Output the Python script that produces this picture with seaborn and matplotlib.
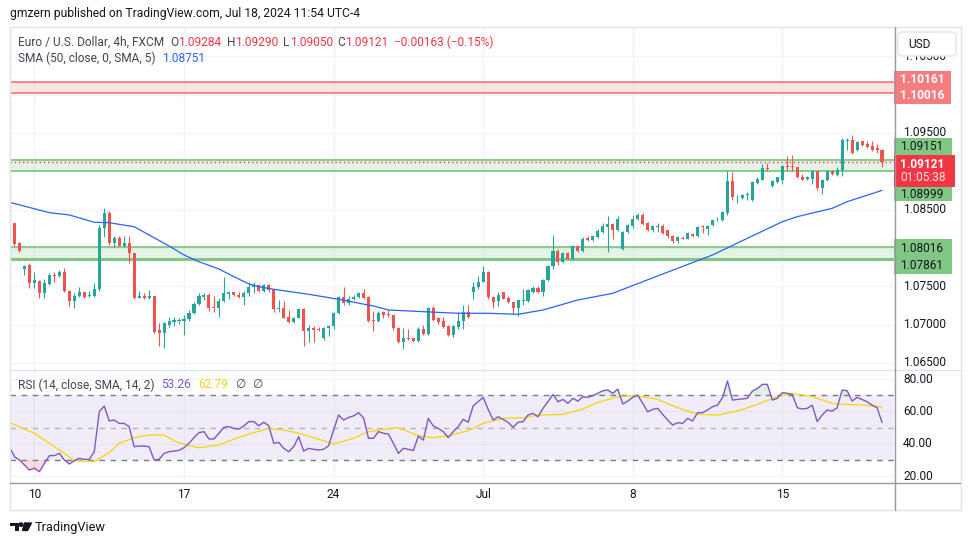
import numpy as np
import pandas as pd
import matplotlib
matplotlib.use("Agg")
import matplotlib.pyplot as plt
import seaborn as sns
from matplotlib.patches import Rectangle, FancyBboxPatch, Circle, Polygon
from matplotlib.transforms import Affine2D

# EURUSD 4h candles (bar 0 = Jun 7, last bar = Jul 18 09:00)
opens = [1.0889, 1.0832, 1.0806, 1.0773, 1.0778, 1.0754, 1.0757, 1.0741, 1.0753, 1.0765,
         1.0763, 1.0768, 1.0744, 1.0731, 1.0737, 1.0742, 1.0737, 1.0737, 1.0746, 1.0826,
         1.0845, 1.0807, 1.0813, 1.0803, 1.0806, 1.0793, 1.0735, 1.0737, 1.0735, 1.0737,
         1.0693, 1.0689, 1.0700, 1.0703, 1.0705, 1.0705, 1.0707, 1.0715, 1.0727, 1.0736,
         1.0738, 1.0723, 1.0721, 1.0731, 1.0740, 1.0742, 1.0739, 1.0736, 1.0741, 1.0749,
         1.0752, 1.0744, 1.0751, 1.0746, 1.0720, 1.0722, 1.0710, 1.0703, 1.0709, 1.0720,
         1.0691, 1.0696, 1.0694, 1.0683, 1.0695, 1.0698, 1.0715, 1.0736, 1.0728, 1.0733,
         1.0736, 1.0741, 1.0736, 1.0706, 1.0705, 1.0716, 1.0714, 1.0712, 1.0696, 1.0677,
         1.0683, 1.0682, 1.0678, 1.0694, 1.0688, 1.0721, 1.0708, 1.0704, 1.0698, 1.0686,
         1.0697, 1.0705, 1.0717, 1.0742, 1.0749, 1.0756, 1.0769, 1.0736, 1.0731, 1.0742,
         1.0735, 1.0729, 1.0721, 1.0731, 1.0731, 1.0743, 1.0748, 1.0742, 1.0758, 1.0776,
         1.0796, 1.0782, 1.0793, 1.0785, 1.0802, 1.0796, 1.0813, 1.0810, 1.0814, 1.0821,
         1.0827, 1.0831, 1.0823, 1.0799, 1.0821, 1.0829, 1.0838, 1.0843, 1.0833, 1.0823,
         1.0827, 1.0829, 1.0823, 1.0816, 1.0809, 1.0813, 1.0812, 1.0818, 1.0815, 1.0828,
         1.0825, 1.0830, 1.0836, 1.0836, 1.0846, 1.0887, 1.0866, 1.0865, 1.0869, 1.0862,
         1.0885, 1.0889, 1.0904, 1.0881, 1.0886, 1.0888, 1.0907, 1.0907, 1.0905, 1.0893,
         1.0890, 1.0890, 1.0900, 1.0878, 1.0888, 1.0900, 1.0895, 1.0902, 1.0940, 1.0941,
         1.0928, 1.0939, 1.0936, 1.0933, 1.0931, 1.09284]
highs = [1.0899, 1.0833, 1.0808, 1.0778, 1.0780, 1.0768, 1.0758, 1.0760, 1.0767, 1.0769,
         1.0771, 1.0774, 1.0745, 1.0741, 1.0749, 1.0743, 1.0744, 1.0754, 1.0830, 1.0852,
         1.0848, 1.0816, 1.0816, 1.0816, 1.0816, 1.0794, 1.0744, 1.0741, 1.0745, 1.0737,
         1.0702, 1.0703, 1.0710, 1.0710, 1.0708, 1.0712, 1.0719, 1.0729, 1.0741, 1.0741,
         1.0741, 1.0737, 1.0735, 1.0762, 1.0744, 1.0743, 1.0742, 1.0744, 1.0756, 1.0756,
         1.0753, 1.0753, 1.0753, 1.0747, 1.0732, 1.0731, 1.0719, 1.0710, 1.0721, 1.0722,
         1.0700, 1.0698, 1.0697, 1.0697, 1.0700, 1.0717, 1.0737, 1.0749, 1.0737, 1.0738,
         1.0743, 1.0746, 1.0737, 1.0718, 1.0718, 1.0718, 1.0719, 1.0713, 1.0697, 1.0696,
         1.0694, 1.0683, 1.0697, 1.0700, 1.0723, 1.0724, 1.0710, 1.0710, 1.0700, 1.0699,
         1.0716, 1.0726, 1.0726, 1.0756, 1.0763, 1.0777, 1.0770, 1.0737, 1.0743, 1.0743,
         1.0737, 1.0730, 1.0734, 1.0747, 1.0746, 1.0750, 1.0750, 1.0760, 1.0778, 1.0817,
         1.0798, 1.0795, 1.0795, 1.0804, 1.0804, 1.0814, 1.0815, 1.0817, 1.0825, 1.0832,
         1.0842, 1.0833, 1.0842, 1.0822, 1.0831, 1.0843, 1.0845, 1.0845, 1.0834, 1.0830,
         1.0832, 1.0831, 1.0824, 1.0817, 1.0816, 1.0815, 1.0821, 1.0819, 1.0829, 1.0830,
         1.0830, 1.0837, 1.0840, 1.0848, 1.0900, 1.0899, 1.0869, 1.0870, 1.0873, 1.0887,
         1.0893, 1.0910, 1.0911, 1.0888, 1.0893, 1.0908, 1.0920, 1.0921, 1.0906, 1.0897,
         1.0894, 1.0902, 1.0901, 1.0890, 1.0902, 1.0902, 1.0906, 1.0943, 1.0943, 1.0947,
         1.0939, 1.0940, 1.0939, 1.0939, 1.0936, 1.09290]
lows = [1.0823, 1.0802, 1.0795, 1.0765, 1.0748, 1.0748, 1.0735, 1.0735, 1.0752, 1.0755,
        1.0762, 1.0742, 1.0724, 1.0722, 1.0736, 1.0735, 1.0736, 1.0736, 1.0744, 1.0814,
        1.0804, 1.0801, 1.0802, 1.0801, 1.0780, 1.0733, 1.0735, 1.0733, 1.0734, 1.0689,
        1.0672, 1.0669, 1.0697, 1.0698, 1.0701, 1.0686, 1.0704, 1.0714, 1.0725, 1.0732,
        1.0718, 1.0716, 1.0710, 1.0730, 1.0734, 1.0737, 1.0735, 1.0726, 1.0737, 1.0741,
        1.0743, 1.0742, 1.0743, 1.0716, 1.0716, 1.0708, 1.0702, 1.0702, 1.0708, 1.0672,
        1.0677, 1.0677, 1.0691, 1.0680, 1.0685, 1.0694, 1.0714, 1.0726, 1.0726, 1.0732,
        1.0735, 1.0733, 1.0703, 1.0692, 1.0703, 1.0709, 1.0710, 1.0693, 1.0676, 1.0668,
        1.0680, 1.0677, 1.0677, 1.0687, 1.0687, 1.0705, 1.0701, 1.0695, 1.0685, 1.0684,
        1.0694, 1.0694, 1.0709, 1.0733, 1.0747, 1.0755, 1.0733, 1.0722, 1.0724, 1.0733,
        1.0728, 1.0714, 1.0711, 1.0726, 1.0730, 1.0741, 1.0741, 1.0737, 1.0757, 1.0772,
        1.0778, 1.0780, 1.0785, 1.0784, 1.0795, 1.0795, 1.0809, 1.0809, 1.0813, 1.0820,
        1.0795, 1.0811, 1.0822, 1.0797, 1.0819, 1.0826, 1.0837, 1.0830, 1.0822, 1.0821,
        1.0821, 1.0818, 1.0813, 1.0806, 1.0807, 1.0811, 1.0811, 1.0814, 1.0814, 1.0819,
        1.0817, 1.0829, 1.0835, 1.0835, 1.0843, 1.0863, 1.0859, 1.0864, 1.0863, 1.0861,
        1.0884, 1.0888, 1.0901, 1.0880, 1.0885, 1.0884, 1.0902, 1.0900, 1.0891, 1.0888,
        1.0889, 1.0884, 1.0875, 1.0871, 1.0887, 1.0895, 1.0894, 1.0894, 1.0928, 1.0922,
        1.0927, 1.0933, 1.0931, 1.0927, 1.0924, 1.09050]
closes = [1.0832, 1.0805, 1.0796, 1.0777, 1.0754, 1.0758, 1.0741, 1.0754, 1.0765, 1.0763,
          1.0769, 1.0744, 1.0731, 1.0737, 1.0742, 1.0736, 1.0738, 1.0746, 1.0826, 1.0846,
          1.0807, 1.0813, 1.0803, 1.0806, 1.0793, 1.0735, 1.0737, 1.0735, 1.0737, 1.0690,
          1.0689, 1.0702, 1.0704, 1.0706, 1.0706, 1.0707, 1.0715, 1.0727, 1.0737, 1.0739,
          1.0721, 1.0721, 1.0731, 1.0741, 1.0742, 1.0738, 1.0736, 1.0741, 1.0749, 1.0751,
          1.0744, 1.0751, 1.0745, 1.0720, 1.0722, 1.0709, 1.0703, 1.0709, 1.0720, 1.0691,
          1.0696, 1.0693, 1.0693, 1.0695, 1.0698, 1.0715, 1.0736, 1.0728, 1.0733, 1.0736,
          1.0741, 1.0735, 1.0705, 1.0705, 1.0715, 1.0712, 1.0712, 1.0696, 1.0677, 1.0683,
          1.0681, 1.0678, 1.0694, 1.0688, 1.0722, 1.0706, 1.0703, 1.0697, 1.0686, 1.0698,
          1.0705, 1.0717, 1.0710, 1.0749, 1.0756, 1.0769, 1.0736, 1.0730, 1.0739, 1.0734,
          1.0729, 1.0721, 1.0732, 1.0732, 1.0745, 1.0748, 1.0742, 1.0758, 1.0776, 1.0796,
          1.0782, 1.0793, 1.0786, 1.0802, 1.0796, 1.0812, 1.0810, 1.0815, 1.0822, 1.0828,
          1.0831, 1.0823, 1.0838, 1.0821, 1.0830, 1.0838, 1.0843, 1.0831, 1.0823, 1.0828,
          1.0829, 1.0820, 1.0815, 1.0809, 1.0814, 1.0812, 1.0819, 1.0815, 1.0827, 1.0827,
          1.0829, 1.0836, 1.0837, 1.0847, 1.0887, 1.0866, 1.0867, 1.0869, 1.0870, 1.0886,
          1.0890, 1.0904, 1.0903, 1.0887, 1.0892, 1.0907, 1.0905, 1.0905, 1.0892, 1.0889,
          1.0892, 1.0900, 1.0878, 1.0889, 1.0900, 1.0896, 1.0902, 1.0941, 1.0941, 1.0924,
          1.0938, 1.0934, 1.0932, 1.0928, 1.09284, 1.09121]

# SMA(50) read at a few bars
sma_bars = [0, 8, 12, 17, 20, 25, 28, 32, 35, 38, 42, 45, 48, 50, 53, 60, 66, 73, 76, 83,
            90, 96, 102, 107, 114, 121, 127, 134, 141, 148, 155, 158, 165, 168, 175]
sma_vals = [1.08596, 1.08460, 1.08430, 1.08335, 1.08329, 1.08277, 1.08169, 1.08025, 1.07908, 1.07820,
            1.07725, 1.07625, 1.07530, 1.07494, 1.07460, 1.07395, 1.07330, 1.07242, 1.07190, 1.07168,
            1.07147, 1.07147, 1.07134, 1.07190, 1.07321, 1.07408, 1.07559, 1.07734, 1.07908, 1.08126,
            1.08342, 1.08408, 1.08517, 1.08603, 1.08751]

# RSI(14), one value per bar
rsi = [38.2, 32.0, 30.0, 26.9, 23.8, 24.9, 22.8, 27.9, 32.7, 32.7,
       34.1, 30.0, 27.5, 29.6, 31.0, 30.4, 30.4, 35.1, 59.8, 63.3,
       54.1, 54.7, 52.6, 52.6, 50.6, 38.2, 38.6, 38.6, 38.2, 30.0,
       30.4, 34.1, 35.1, 35.5, 36.0, 37.6, 40.3, 43.8, 46.9, 47.5,
       43.0, 43.0, 46.5, 50.2, 50.6, 49.5, 49.1, 51.0, 53.7, 53.7,
       51.2, 53.3, 51.2, 40.3, 40.9, 37.2, 35.1, 38.2, 44.4, 35.5,
       37.2, 36.6, 36.2, 36.6, 38.8, 48.5, 57.8, 54.7, 56.3, 57.2,
       59.2, 56.1, 43.4, 43.4, 47.5, 46.5, 46.0, 40.3, 34.1, 37.2,
       36.6, 35.8, 44.8, 42.3, 55.7, 51.0, 49.5, 47.5, 43.8, 47.5,
       50.6, 55.1, 53.3, 63.5, 66.0, 68.7, 61.3, 54.7, 56.7, 55.1,
       53.3, 50.2, 53.3, 53.7, 57.8, 58.8, 56.7, 61.9, 66.0, 70.5,
       66.0, 67.4, 65.0, 68.1, 66.4, 69.1, 68.7, 69.7, 71.2, 72.8,
       73.2, 71.2, 73.8, 64.6, 66.4, 68.7, 70.1, 65.0, 59.8, 61.3,
       61.9, 58.2, 54.7, 51.6, 53.0, 52.6, 55.7, 54.1, 59.2, 59.2,
       60.9, 62.9, 63.9, 68.5, 78.8, 67.0, 67.4, 67.7, 68.1, 72.6,
       74.2, 76.7, 76.7, 67.0, 68.1, 71.6, 71.2, 70.5, 62.3, 61.5,
       61.9, 63.9, 53.7, 57.8, 60.9, 60.2, 62.3, 73.2, 72.8, 66.4,
       68.7, 67.4, 66.0, 63.9, 62.3, 53.26]

# RSI-based SMA(14) read at a few bars
rsi_ma_bars = [0, 5, 7, 10, 13, 17, 20, 22, 25, 28, 31, 33, 36, 38, 42, 45, 48, 52, 55, 58,
               62, 65, 69, 72, 75, 78, 82, 85, 88, 92, 95, 99, 103, 106, 111, 115, 118, 122, 126, 130,
               134, 138, 142, 146, 150, 154, 157, 161, 165, 167, 171, 175]
rsi_ma_vals = [53.2, 46.5, 42.3, 36.2, 29.6, 29.0, 34.7, 40.3, 43.8, 45.4, 45.4, 41.7, 38.8, 37.6, 39.3, 42.9, 46.0, 49.5, 48.5, 46.5,
               42.9, 39.9, 43.4, 47.5, 48.9, 50.0, 45.0, 43.8, 45.0, 48.1, 52.6, 55.7, 56.1, 57.8, 58.2, 61.5, 65.6, 69.1, 69.7, 67.4,
               62.3, 58.2, 57.8, 60.2, 64.4, 69.1, 71.2, 69.1, 65.0, 64.4, 64.0, 62.79]

# horizontal zones drawn by the author
zone_red = (1.10016, 1.10161)
zone_green_hi = (1.08999, 1.09151)
zone_green_lo = (1.07861, 1.08016)

tick_bars = [5, 35, 65, 95, 125, 155]
tick_labels = ["10", "17", "24", "Jul", "8", "15"]
price_ticks = [1.065, 1.070, 1.075, 1.080, 1.085, 1.090, 1.095, 1.100, 1.105]
rsi_ticks = [20, 40, 60, 80]

UP, DOWN = "#26A69A", "#EF5350"
GRID = "#F0F3FA"
TXT = "#131722"
GRAY = "#434651"

W, H = 970, 545
sns.set_style("white")
plt.rcParams['font.family'] = ['Roboto', 'DejaVu Sans']

fig = plt.figure(figsize=(W / 100, H / 100), dpi=100)
px = Affine2D().scale(1, -1).translate(0, H)   # pixel coords, origin top-left


def rect(l, t, r, b):
    return [l / W, 1 - b / H, (r - l) / W, (b - t) / H]


ax = fig.add_axes(rect(10, 27, 894, 369))
rx = fig.add_axes(rect(10, 370, 894, 482), sharex=ax)
for a in (ax, rx):
    a.set_xticks([])
    a.set_yticks([])
    for s in a.spines.values():
        s.set_visible(False)
    a.set_facecolor("white")

ax.set_xlim(0.1, 177.4)
ax.set_ylim(1.06420, 1.10883)
rx.set_ylim(16.4, 85.6)

df = pd.DataFrame({"o": opens, "h": highs, "l": lows, "c": closes})
df["bar"] = np.arange(len(df))
df["up"] = df["c"] >= df["o"]
colors = np.where(df["up"], UP, DOWN)

# grid
for p in price_ticks:
    ax.axhline(p, color=GRID, lw=1, zorder=0)
for v in rsi_ticks:
    rx.axhline(v, color=GRID, lw=1, zorder=0)
for b in tick_bars:
    ax.axvline(b, color=GRID, lw=1, zorder=0)
    rx.axvline(b, color=GRID, lw=1, zorder=0)

# zones
ax.axhspan(*zone_red, color="#F77C80", alpha=0.2, lw=0, zorder=1)
for p in zone_red:
    ax.axhline(p, color="#F77C80", lw=1.3, zorder=2)
for z in (zone_green_hi, zone_green_lo):
    ax.axhspan(*z, color="#81C784", alpha=0.2, lw=0, zorder=1)
    ax.axhline(z[1], color="#81C784", lw=1.3, zorder=2)
ax.axhline(zone_green_hi[0], color="#81C784", lw=1.3, zorder=2)
ax.axhline(zone_green_lo[0], color="#81C784", lw=2.2, zorder=2)
ax.axhline(closes[-1], color="#F23645", lw=1, ls=(0, (1, 2)), zorder=2)

# candles
ax.vlines(df["bar"], df["l"], df["h"], colors=colors, lw=0.8, zorder=3)
body = np.maximum((df["c"] - df["o"]).abs(), 0.00009)
ax.bar(df["bar"], body, bottom=np.minimum(df["o"], df["c"]), width=0.62,
       color=colors, lw=0, zorder=4)

sns.lineplot(x=sma_bars, y=sma_vals, ax=ax, color="#2962FF", lw=0.9, zorder=5,
             estimator=None, sort=False)

# RSI pane
rsi_arr = np.array(rsi)
bars = df["bar"].to_numpy()
rx.axhspan(30, 70, color="#7E57C2", alpha=0.1, lw=0, zorder=1)
rx.fill_between(bars, 70, rsi_arr, where=rsi_arr > 70, interpolate=True,
                color="#4CAF50", alpha=0.18, lw=0, zorder=2)
rx.fill_between(bars, 30, rsi_arr, where=rsi_arr < 30, interpolate=True,
                color="#F23645", alpha=0.18, lw=0, zorder=2)
rx.axhline(70, color="#787B86", lw=1, ls=(0, (4, 4)), zorder=2)
rx.axhline(30, color="#787B86", lw=1, ls=(0, (4, 4)), zorder=2)
rx.axhline(50, color="#787B86", lw=1, ls=(0, (4, 4)), alpha=0.5, zorder=2)
sns.lineplot(x=rsi_ma_bars, y=rsi_ma_vals, ax=rx, color="#F7D51E", lw=1.0, zorder=3,
             estimator=None, sort=False)
sns.lineplot(x=bars, y=rsi_arr, ax=rx, color="#7E57C2", lw=1.0, zorder=4,
             estimator=None, sort=False)
for a in (ax, rx):
    a.set_xlabel("")
    a.set_ylabel("")


def ytop(p, a=ax):
    return H - a.transData.transform((0, p))[1]


def xpix(b):
    return ax.transData.transform((b, 0))[0]


def ftext(x, y, s, **kw):
    kw.setdefault("fontsize", 8.6)
    kw.setdefault("color", TXT)
    kw.setdefault("va", "center")
    return fig.text(x, y, s, transform=px, **kw)


def box(x0, y0, x1, y1, face, z=10):
    fig.add_artist(Rectangle((x0, y0), x1 - x0, y1 - y0, transform=px,
                             facecolor=face, lw=0, zorder=z))


def line(x0, y0, x1, y1, color, lw=1):
    fig.add_artist(plt.Line2D([x0, x1], [y0, y1], transform=px, color=color, lw=lw, zorder=12))


renderer = fig.canvas.get_renderer()


def seq(x, y, parts, size=8.6):
    for s, c, gap in parts:
        t = ftext(x, y, s, color=c, fontsize=size)
        x += t.get_window_extent(renderer=renderer).width + gap


# frame
fig.add_artist(Rectangle((9.5, 26.5), 951, 483, transform=px, fill=False,
                         edgecolor="#E0E3EB", lw=1, zorder=11))
line(10, 369.5, 960, 369.5, "#E0E3EB")
line(894.5, 26.5, 894.5, 509.5, "#9598A1")
line(10, 482.5, 960, 482.5, "#9598A1")

# price axis labels (the ones under the price tags are hidden on the original)
hidden = {1.080, 1.090, 1.100}
for p in price_ticks:
    if round(p, 3) not in hidden:
        ftext(903, ytop(p), f"{p:.5f}", zorder=9)
for v in rsi_ticks:
    ftext(903, ytop(v, rx), f"{v:.2f}", zorder=9)
for b, lab in zip(tick_bars, tick_labels):
    ftext(xpix(b), 494, lab, ha="center")

# price tags
TZ = 16
r1, r2 = ytop(zone_red[1]), ytop(zone_red[0])
m = (r1 + r2) / 2
box(894, m - 17, 951, m + 16, "#F77C80")
ftext(900, m - 8.5, f"{zone_red[1]:.5f}", color="white", weight="bold", zorder=TZ)
ftext(900, m + 8, f"{zone_red[0]:.5f}", color="white", weight="bold", zorder=TZ)

cur = ytop(closes[-1])
box(894, cur - 24, 952, cur - 7, "#81C784")
ftext(900, cur - 15.5, f"{zone_green_hi[1]:.5f}", zorder=TZ)
box(894, cur - 7, 955, cur + 25, "#F23645")
ftext(900, cur + 2, f"{closes[-1]:.5f}", color="white", weight="bold", zorder=TZ)
ftext(900, cur + 15, "01:05:38", color="#FFE1E3", zorder=TZ)
box(894, cur + 25, 952, cur + 39, "#81C784")
ftext(900, cur + 32, f"{zone_green_hi[0]:.5f}", zorder=TZ)

g1 = ytop(zone_green_lo[1])
box(894, g1 - 7.5, 952, g1 + 27, "#81C784")
ftext(900, g1 + 1.5, f"{zone_green_lo[1]:.5f}", zorder=TZ)
ftext(900, g1 + 18.5, f"{zone_green_lo[0]:.5f}", zorder=TZ)

# USD button
fig.add_artist(FancyBboxPatch((898, 32), 58, 24, boxstyle="round,pad=0,rounding_size=4",
                              transform=px, facecolor="white", edgecolor="#E0E3EB",
                              lw=1, zorder=13))
ftext(908, 44.5, "USD", zorder=14)

# header and legends
ftext(10, 14, "gmzern published on TradingView.com, Jul 18, 2024 11:54 UTC-4", fontsize=8.7)
chg = closes[-1] - closes[-2]
RED = "#F23645"
seq(18, 42.5, [("Euro / U.S. Dollar, 4h, FXCM", GRAY, 6),
               ("O", GRAY, 0), (f"{opens[-1]:.5f}", RED, 5),
               ("H", GRAY, 0), (f"{highs[-1]:.5f}", RED, 5),
               ("L", GRAY, 0), (f"{lows[-1]:.5f}", RED, 5),
               ("C", GRAY, 0), (f"{closes[-1]:.5f}", RED, 5),
               (f"\u2212{abs(chg):.5f} (\u2212{abs(chg) / closes[-2] * 100:.2f}%)", RED, 0)])
seq(18, 58.5, [("SMA (50, close, 0, SMA, 5)", GRAY, 7), (f"{sma_vals[-1]:.5f}", "#2962FF", 0)])
seq(18, 385, [("RSI (14, close, SMA, 14, 2)", GRAY, 7), (f"{rsi[-1]:.2f}", "#7E57C2", 7),
              (f"{rsi_ma_vals[-1]:.2f}", "#F7D51E", 7), ("\u2205", GRAY, 7), ("\u2205", GRAY, 0)])

# TradingView logo
LOGO = "#131722"
box(10, 523, 18.5, 526, LOGO, z=15)
box(14.5, 523, 18.5, 530.5, LOGO, z=15)
fig.add_artist(Circle((21, 524.6), 1.7, transform=px, color=LOGO, zorder=15))
fig.add_artist(Polygon([(24.5, 523), (31.5, 523), (27.5, 530.5), (22.5, 530.5)],
                       transform=px, color=LOGO, zorder=15))
ftext(35, 527, "TradingView", fontsize=9.2)

fig.savefig("out.png", dpi=100, facecolor="white")
